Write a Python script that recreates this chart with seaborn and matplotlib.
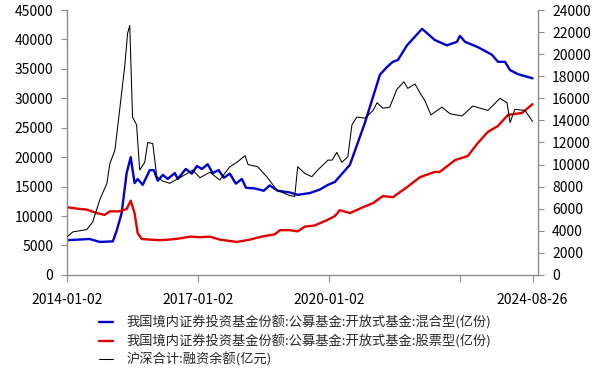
import pandas as pd
import seaborn as sns
import matplotlib.pyplot as plt
import matplotlib.dates as mdates

# 混合型 fund shares (left axis, 亿份)
mix_dates = ["2014-01-02", "2014-07-10", "2014-10-02", "2015-01-20", "2015-02-22", "2015-04-03",
             "2015-05-15", "2015-06-18", "2015-07-20", "2015-08-15", "2015-09-26", "2015-11-24",
             "2015-12-28", "2016-01-30", "2016-03-12", "2016-04-22", "2016-06-20", "2016-07-15",
             "2016-09-20", "2016-11-10", "2016-12-22", "2017-02-02", "2017-03-22", "2017-05-03",
             "2017-06-22", "2017-08-04", "2017-09-23", "2017-11-12", "2018-01-02", "2018-02-05",
             "2018-04-18", "2018-07-03", "2018-08-22", "2018-10-28", "2019-02-07", "2019-04-13",
             "2019-07-22", "2019-10-15", "2019-12-22", "2020-02-18", "2020-06-22", "2020-10-25",
             "2021-02-28", "2021-04-27", "2021-06-16", "2021-07-28", "2021-10-12", "2022-02-15",
             "2022-06-02", "2022-09-10", "2022-12-04", "2022-12-28", "2023-02-09", "2023-05-27",
             "2023-09-22", "2023-11-11", "2024-01-09", "2024-02-20", "2024-04-26", "2024-08-26"]
mix_vals = [5900, 6100, 5600, 5700, 7600, 10500,
            17300, 20000, 15600, 16300, 15300, 17800,
            17800, 16000, 17000, 16300, 17300, 16300,
            18000, 17200, 18500, 18000, 18800, 17300,
            17800, 16500, 17200, 15500, 16300, 14800,
            14700, 14300, 15200, 14300, 14000, 13600,
            13900, 14500, 15300, 15800, 18700, 25800,
            34000, 35300, 36200, 36500, 39000, 41800,
            39900, 39000, 39600, 40600, 39600, 38700,
            37400, 36200, 36200, 34800, 34100, 33400]

# 股票型 fund shares (left axis, 亿份)
stock_dates = ["2014-01-02", "2014-04-18", "2014-06-15", "2014-09-07", "2014-11-13", "2014-12-26",
               "2015-03-17", "2015-05-15", "2015-06-18", "2015-07-20", "2015-08-15", "2015-09-18",
               "2015-11-24", "2016-02-15", "2016-05-09", "2016-08-01", "2016-10-25", "2017-01-16",
               "2017-04-10", "2017-07-01", "2017-11-21", "2018-03-10", "2018-06-16", "2018-10-04",
               "2018-11-16", "2019-02-07", "2019-04-13", "2019-06-11", "2019-09-03", "2019-12-13",
               "2020-02-18", "2020-03-30", "2020-06-22", "2020-10-10", "2021-01-02", "2021-03-25",
               "2021-06-16", "2021-10-12", "2022-01-28", "2022-06-02", "2022-07-13", "2022-11-17",
               "2023-03-04", "2023-05-27", "2023-08-19", "2023-11-11", "2024-02-04", "2024-05-28",
               "2024-08-26"]
stock_vals = [11500, 11200, 11100, 10500, 10200, 10800,
              10800, 11200, 12600, 10500, 7100, 6100,
              6000, 5900, 6000, 6200, 6500, 6400,
              6500, 6000, 5600, 6000, 6500, 6900,
              7600, 7600, 7400, 8200, 8400, 9300,
              10000, 11000, 10500, 11500, 12200, 13400,
              13200, 14900, 16600, 17500, 17500, 19500,
              20200, 22400, 24300, 25300, 27200, 27500,
              29000]

# 融资余额 (right axis, 亿元)
margin_dates = ["2014-01-02", "2014-02-20", "2014-06-15", "2014-08-05", "2014-10-02", "2014-12-01",
                "2014-12-26", "2015-02-06", "2015-03-17", "2015-04-28", "2015-05-23", "2015-06-10",
                "2015-07-03", "2015-08-06", "2015-09-01", "2015-10-13", "2015-11-07", "2015-12-19",
                "2016-01-22", "2016-03-12", "2016-05-09", "2016-08-01", "2016-11-18", "2017-01-16",
                "2017-04-10", "2017-07-01", "2017-09-23", "2017-11-21", "2018-01-28", "2018-02-22",
                "2018-05-14", "2018-07-28", "2018-10-20", "2019-02-01", "2019-03-19", "2019-04-13",
                "2019-06-11", "2019-08-09", "2019-09-27", "2019-12-22", "2020-01-25", "2020-03-05",
                "2020-04-16", "2020-06-05", "2020-07-09", "2020-08-19", "2020-10-25", "2021-01-02",
                "2021-02-04", "2021-03-25", "2021-05-21", "2021-07-19", "2021-09-16", "2021-10-19",
                "2021-12-18", "2022-01-28", "2022-03-10", "2022-04-30", "2022-07-31", "2022-10-06",
                "2023-01-15", "2023-04-15", "2023-08-19", "2023-11-28", "2024-01-26", "2024-02-20",
                "2024-03-31", "2024-06-24", "2024-08-26"]
margin_vals = [3440, 3900, 4100, 4800, 6800, 8300,
               10100, 11300, 14900, 18800, 21900, 22600,
               14300, 13600, 9500, 10200, 12000, 11900,
               8900, 8500, 8300, 8800, 9500, 8800,
               9300, 8600, 9800, 10200, 10800, 10000,
               9800, 8900, 7700, 7200, 7100, 9800,
               9200, 8900, 9500, 10400, 10400, 11100,
               10200, 10700, 13600, 14300, 14200, 14900,
               15600, 15100, 15200, 16800, 17500, 16900,
               17300, 16500, 15800, 14500, 15200, 14600,
               14400, 15300, 14900, 16000, 15600, 13800,
               15000, 14900, 13900]

mix_label = "我国境内证券投资基金份额:公募基金:开放式基金:混合型(亿份)"
stock_label = "我国境内证券投资基金份额:公募基金:开放式基金:股票型(亿份)"
margin_label = "沪深合计:融资余额(亿元)"

tick_dates = ["2014-01-02", "2017-01-02", "2020-01-02", "2023-01-02", "2024-08-26"]
tick_labels = ["2014-01-02", "2017-01-02", "2020-01-02", "", "2024-08-26"]

sns.set_style("white")
plt.rcParams["font.family"] = ["Noto Sans CJK SC", "DejaVu Sans"]

mix = pd.DataFrame({"date": pd.to_datetime(mix_dates), "value": mix_vals})
stock = pd.DataFrame({"date": pd.to_datetime(stock_dates), "value": stock_vals})
margin = pd.DataFrame({"date": pd.to_datetime(margin_dates), "value": margin_vals})

fig = plt.figure(figsize=(6.04, 3.71), dpi=100)
ax = fig.add_axes([0.111, 0.259, 0.78, 0.714])
ax2 = ax.twinx()

sns.lineplot(data=mix, x="date", y="value", ax=ax, color="#0000CC", linewidth=1.7, label=mix_label, legend=False)
sns.lineplot(data=stock, x="date", y="value", ax=ax, color="#E00000", linewidth=1.7, label=stock_label, legend=False)
sns.lineplot(data=margin, x="date", y="value", ax=ax2, color="black", linewidth=0.75, label=margin_label, legend=False)

ax.set_ylim(0, 45000)
ax.set_yticks(range(0, 45001, 5000))
ax2.set_ylim(0, 24000)
ax2.set_yticks(range(0, 24001, 2000))
ax.set_xlim(pd.Timestamp("2014-01-02"), pd.Timestamp("2024-10-12"))
ax.set_xticks(pd.to_datetime(tick_dates))
ax.set_xticklabels(tick_labels)

grey = "#8c8c8c"
for a in (ax, ax2):
    a.set_xlabel("")
    a.set_ylabel("")
    a.spines["top"].set_visible(False)
    for s in ("left", "right", "bottom"):
        a.spines[s].set_color(grey)
        a.spines[s].set_linewidth(1.0)
ax.spines["right"].set_visible(False)
ax2.spines["left"].set_visible(False)
ax2.spines["bottom"].set_visible(False)

ax.tick_params(axis="y", direction="out", length=4, color=grey, labelsize=10, labelcolor="black", left=True, pad=6)
ax.tick_params(axis="x", direction="out", length=5, color=grey, labelsize=10, labelcolor="black", bottom=True, pad=8)
ax2.tick_params(axis="y", direction="out", length=4, color=grey, labelsize=10, labelcolor="black", right=True, pad=6)

h1, l1 = ax.get_legend_handles_labels()
h2, l2 = ax2.get_legend_handles_labels()
fig.legend(h1 + h2, l1 + l2, loc="upper left", bbox_to_anchor=(0.155, 0.165), frameon=False,
           fontsize=9.5, handlelength=1.1, handletextpad=1.0, labelspacing=0.35, borderaxespad=0)

fig.savefig("out.png", dpi=100)
